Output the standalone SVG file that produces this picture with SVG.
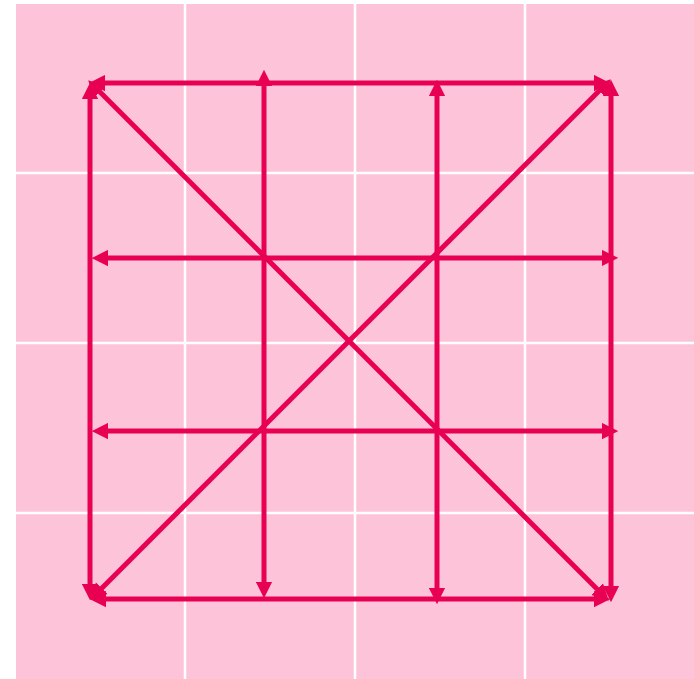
<svg xmlns="http://www.w3.org/2000/svg" width="694" height="679" viewBox="0 0 694 679">
<style>
.bg{fill:#fdc4d9}
.grid line{stroke:#ffffff;stroke-width:2.5}
.edges line{stroke:#e80052;stroke-width:5;fill:none;marker-start:url(#ah);marker-end:url(#ah)}
</style>
<defs>
<marker id="ah" viewBox="0 0 10 10" refX="5" refY="5" markerWidth="3.3" markerHeight="3.4" orient="auto-start-reverse" markerUnits="strokeWidth">
<path d="M0,0 L10,5 L0,10 z" fill="#e80052"/>
</marker>
</defs>
<rect class="bg" x="16" y="4" width="678" height="675"/>
<g class="grid">
<line x1="185" y1="4" x2="185" y2="679"/>
<line x1="355" y1="4" x2="355" y2="679"/>
<line x1="525" y1="4" x2="525" y2="679"/>
<line x1="16" y1="173" x2="694" y2="173"/>
<line x1="16" y1="343" x2="694" y2="343"/>
<line x1="16" y1="513" x2="694" y2="513"/>
</g>
<g class="edges">
<line x1="97" y1="83" x2="602" y2="83"/>
<line x1="98" y1="599" x2="602" y2="599"/>
<line x1="90" y1="91" x2="90" y2="592"/>
<line x1="611" y1="88" x2="611" y2="594"/>
<line x1="264" y1="78" x2="264" y2="590"/>
<line x1="437" y1="88" x2="437" y2="596"/>
<line x1="100" y1="258" x2="610" y2="258"/>
<line x1="100" y1="431" x2="610" y2="431"/>
<line x1="94" y1="86" x2="603" y2="595"/>
<line x1="96" y1="594" x2="605" y2="85"/>
</g>
</svg>
